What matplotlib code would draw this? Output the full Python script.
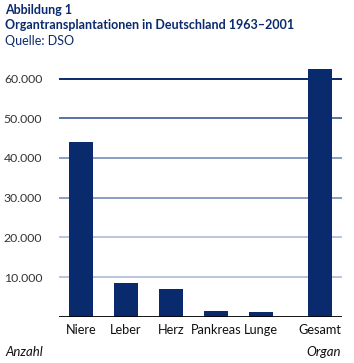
import numpy as np
import matplotlib.pyplot as plt

plt.rcParams['font.family'] = ['Lato', 'DejaVu Sans']

# data
organs = ['Niere', 'Leber', 'Herz', 'Pankreas', 'Lunge', 'Gesamt']
values = [44100, 8500, 7000, 1450, 1200, 62300]
positions = [0, 1, 2, 3, 4, 5.31]
grid_values = [10000, 20000, 30000, 40000, 50000, 60000]
grid_colors = ['#b8c6de', '#b8c6de', '#8b9dc5', '#8b9dc5', '#5a72a8', '#0a2a6e']
tick_labels = ['10.000', '20.000', '30.000', '40.000', '50.000', '60.000']

navy = '#0a2a6e'
W, H = 354, 363

fig = plt.figure(figsize=(W / 100, H / 100), dpi=100)
ax = fig.add_axes([59 / W, 1 - 316.7 / H, (342 - 59) / W, (316.7 - 58.65) / H])

for v, c in zip(grid_values, grid_colors):
    ax.axhline(v, color=c, lw=1.4, zorder=1)

ax.bar(positions, values, width=0.527, color=navy, zorder=2)
ax.axhline(0, color='black', lw=2, zorder=3)

ax.set_xlim(-0.486, 5.803)
ax.set_ylim(0, 65000)
for s in ax.spines.values():
    s.set_visible(False)
ax.set_xticks(positions)
ax.set_xticklabels(organs, fontsize=9.2, color='#111111')
ax.tick_params(axis='x', length=0, pad=5)
ax.set_yticks(grid_values)
ax.set_yticklabels(tick_labels, fontsize=8.8, color='#333333')
ax.tick_params(axis='y', length=0, pad=12)

fig.text(5 / W, 1 - 10 / H, 'Abbildung 1', fontsize=9, fontweight='bold',
         color=navy, va='center', ha='left')
fig.text(5 / W, 1 - 25 / H, 'Organtransplantationen in Deutschland 1963\u20132001',
         fontsize=9, fontweight='bold', color=navy, va='center', ha='left')
fig.text(5 / W, 1 - 41 / H, 'Quelle: DSO', fontsize=9, color=navy,
         va='center', ha='left')
fig.text(5 / W, 1 - 352 / H, 'Anzahl', fontsize=9.5, style='italic',
         color='#111111', va='center', ha='left')
fig.text(341 / W, 1 - 352 / H, 'Organ', fontsize=9.5, style='italic',
         color='#111111', va='center', ha='right')

fig.savefig('out.png', dpi=100)
